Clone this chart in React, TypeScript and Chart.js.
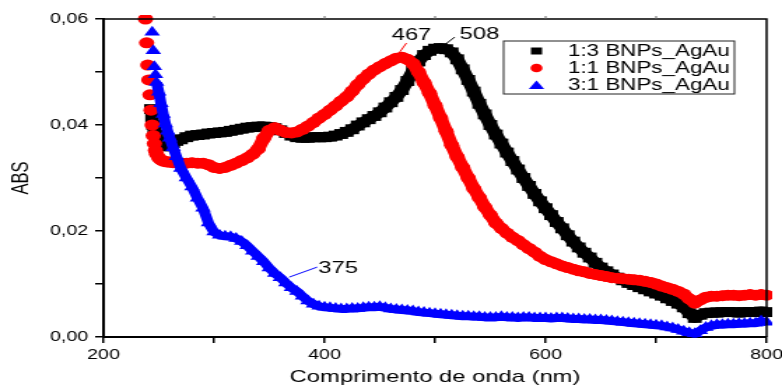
import React, { useEffect, useRef } from "react";
import { Chart, registerables } from "chart.js";

Chart.register(...registerables);

const wavelengths = [
  238, 239, 240, 241, 242, 243, 244, 245, 246, 247,
  248, 250, 252, 254, 256, 258, 260, 263, 266, 270,
  275, 280, 285, 290, 295, 300, 305, 310, 315, 320,
  325, 330, 335, 340, 345, 350, 355, 360, 365, 370,
  375, 380, 385, 390, 395, 400, 405, 410, 415, 420,
  425, 430, 435, 440, 445, 450, 455, 460, 465, 470,
  475, 480, 485, 490, 495, 500, 505, 510, 515, 520,
  525, 530, 535, 540, 545, 550, 555, 560, 565, 570,
  575, 580, 585, 590, 595, 600, 605, 610, 615, 620,
  625, 630, 635, 640, 645, 650, 655, 660, 665, 670,
  675, 680, 685, 690, 695, 700, 705, 710, 715, 720,
  725, 730, 735, 740, 745, 750, 755, 760, 765, 770,
  775, 780, 785, 790, 795, 800,
];

// 1:3 BNPs_AgAu (black squares)
const abs13 = [
  null, null, null, null, null, 0.0430, 0.0415, 0.0400, 0.0390, 0.0382,
  0.0375, 0.0368, 0.0364, 0.0362, 0.0360, 0.0360, 0.0362, 0.0366, 0.0370, 0.0373,
  0.0377, 0.0380, 0.0381, 0.0382, 0.0384, 0.0385, 0.0386, 0.0387, 0.0389, 0.0391,
  0.0393, 0.0395, 0.0396, 0.0397, 0.0397, 0.0396, 0.0394, 0.0390, 0.0385, 0.0380,
  0.0377, 0.0376, 0.0376, 0.0377, 0.0377, 0.0377, 0.0378, 0.0380, 0.0383, 0.0387,
  0.0392, 0.0399, 0.0405, 0.0411, 0.0417, 0.0424, 0.0433, 0.0443, 0.0453, 0.0466,
  0.0483, 0.0502, 0.0520, 0.0532, 0.0540, 0.0544, 0.0545, 0.0543, 0.0537, 0.0524,
  0.0505, 0.0485, 0.0463, 0.0440, 0.0420, 0.0400, 0.0382, 0.0365, 0.0348, 0.0332,
  0.0316, 0.0300, 0.0285, 0.0270, 0.0256, 0.0243, 0.0230, 0.0217, 0.0205, 0.0192,
  0.0180, 0.0169, 0.0159, 0.0150, 0.0140, 0.0131, 0.0124, 0.0118, 0.0112, 0.0107,
  0.0102, 0.0098, 0.0094, 0.0090, 0.0086, 0.0082, 0.0078, 0.0073, 0.0068, 0.0063,
  0.0056, 0.0045, 0.0036, 0.0042, 0.0045, 0.0046, 0.0046, 0.0047, 0.0047, 0.0047,
  0.0046, 0.0047, 0.0047, 0.0047, 0.0048, 0.0047,
];

// 1:1 BNPs_AgAu (red circles)
const abs11 = [
  0.0600, 0.0555, 0.0513, 0.0485, 0.0457, 0.0428, 0.0400, 0.0380, 0.0365, 0.0352,
  0.0345, 0.0338, 0.0334, 0.0332, 0.0331, 0.0330, 0.0330, 0.0329, 0.0329, 0.0328,
  0.0328, 0.0329, 0.0328, 0.0328, 0.0325, 0.0320, 0.0318, 0.0320, 0.0324, 0.0328,
  0.0333, 0.0338, 0.0345, 0.0355, 0.0375, 0.0390, 0.0395, 0.0390, 0.0386, 0.0385,
  0.0387, 0.0392, 0.0398, 0.0405, 0.0413, 0.0420, 0.0428, 0.0436, 0.0445, 0.0453,
  0.0464, 0.0476, 0.0487, 0.0496, 0.0504, 0.0510, 0.0516, 0.0521, 0.0526, 0.0528,
  0.0524, 0.0516, 0.0500, 0.0480, 0.0460, 0.0437, 0.0413, 0.0388, 0.0362, 0.0340,
  0.0320, 0.0300, 0.0280, 0.0263, 0.0245, 0.0230, 0.0215, 0.0205, 0.0196, 0.0188,
  0.0182, 0.0174, 0.0167, 0.0160, 0.0152, 0.0146, 0.0142, 0.0138, 0.0134, 0.0131,
  0.0128, 0.0125, 0.0123, 0.0120, 0.0118, 0.0116, 0.0114, 0.0112, 0.0111, 0.0110,
  0.0109, 0.0108, 0.0107, 0.0105, 0.0103, 0.0100, 0.0096, 0.0093, 0.0090, 0.0086,
  0.0081, 0.0072, 0.0064, 0.0070, 0.0075, 0.0077, 0.0077, 0.0078, 0.0079, 0.0079,
  0.0078, 0.0079, 0.0080, 0.0079, 0.0080, 0.0079,
];

// 3:1 BNPs_AgAu (blue triangles)
const abs31 = [
  null, null, null, null, null, null, 0.0575, 0.0540, 0.0510, 0.0495,
  0.0480, 0.0462, 0.0440, 0.0420, 0.0402, 0.0388, 0.0375, 0.0357, 0.0340, 0.0318,
  0.0300, 0.0283, 0.0262, 0.0243, 0.0215, 0.0198, 0.0192, 0.0190, 0.0189, 0.0186,
  0.0180, 0.0172, 0.0162, 0.0152, 0.0142, 0.0130, 0.0120, 0.0112, 0.0102, 0.0093,
  0.0086, 0.0077, 0.0068, 0.0062, 0.0058, 0.0056, 0.0055, 0.0054, 0.0053, 0.0053,
  0.0054, 0.0054, 0.0055, 0.0056, 0.0056, 0.0057, 0.0055, 0.0053, 0.0052, 0.0051,
  0.0050, 0.0049, 0.0047, 0.0046, 0.0045, 0.0044, 0.0043, 0.0042, 0.0041, 0.0040,
  0.0039, 0.0039, 0.0038, 0.0038, 0.0037, 0.0037, 0.0037, 0.0038, 0.0037, 0.0037,
  0.0036, 0.0037, 0.0037, 0.0036, 0.0036, 0.0036, 0.0035, 0.0036, 0.0036, 0.0035,
  0.0034, 0.0034, 0.0033, 0.0033, 0.0032, 0.0032, 0.0031, 0.0030, 0.0029, 0.0028,
  0.0027, 0.0026, 0.0025, 0.0024, 0.0023, 0.0022, 0.0021, 0.0019, 0.0017, 0.0014,
  0.0011, 0.0008, 0.0006, 0.0012, 0.0018, 0.0021, 0.0023, 0.0023, 0.0024, 0.0024,
  0.0025, 0.0025, 0.0026, 0.0026, 0.0030, 0.0028,
];

const seriesLabels = ["1:3 BNPs_AgAu", "1:1 BNPs_AgAu", "3:1 BNPs_AgAu"];

// peak annotations: label, wavelength and absorbance where the pointer touches the curve
const peakLabels = ["467", "508", "375"];
const peakX = [466, 506, 368];
const peakY = [0.0532, 0.0547, 0.0113];

const xTitle = "Comprimento de onda (nm)";
const yTitle = "ABS";

const FONT = "'Liberation Sans', Arial, sans-serif";
const COLORS = ["#000000", "#ff0000", "#0000ff"];

function toPoints(vals: (number | null)[]) {
  const pts: { x: number; y: number }[] = [];
  wavelengths.forEach((x, i) => {
    const v = vals[i];
    if (v !== null && v !== undefined) pts.push({ x, y: v });
  });
  return pts;
}

const overlayPlugin = {
  id: "overlay",
  afterDatasetsDraw(chart: any) {
    const { ctx, chartArea: a, scales } = chart;
    const xs = scales.x;
    const ys = scales.y;
    ctx.save();
    // top and right frame
    ctx.strokeStyle = "#000";
    ctx.lineWidth = 1.5;
    ctx.beginPath();
    ctx.moveTo(a.left, a.top);
    ctx.lineTo(a.right, a.top);
    ctx.lineTo(a.right, a.bottom);
    ctx.stroke();
    // small top ticks
    ctx.lineWidth = 1;
    ctx.strokeStyle = "#666";
    for (let v = 300; v <= 700; v += 100) {
      const px = xs.getPixelForValue(v);
      ctx.beginPath();
      ctx.moveTo(px, a.top);
      ctx.lineTo(px, a.top - 3);
      ctx.stroke();
    }

    // annotations
    const lineOff = [
      [6.4, -12],
      [9.3, -10],
      [20, -10],
    ];
    const textOff = [
      [10, -20],
      [27, -13],
      [35, -9],
    ];
    const lineColors = ["#ff0000", "#000000", "#0000ff"];
    ctx.font = `17px ${FONT}`;
    ctx.textAlign = "center";
    ctx.textBaseline = "middle";
    peakLabels.forEach((lab, i) => {
      const px = xs.getPixelForValue(peakX[i]);
      const py = ys.getPixelForValue(peakY[i]);
      ctx.strokeStyle = lineColors[i];
      ctx.lineWidth = 1;
      ctx.beginPath();
      ctx.moveTo(px, py);
      ctx.lineTo(px + lineOff[i][0], py + lineOff[i][1]);
      ctx.stroke();
      ctx.fillStyle = "#000";
      ctx.fillText(lab, px + textOff[i][0], py + textOff[i][1]);
    });

    // legend
    const bw = 165;
    const bh = 53;
    const bx = a.right - 23 - bw;
    const by = a.top + 22;
    ctx.fillStyle = "#fff";
    ctx.fillRect(bx, by, bw, bh);
    ctx.strokeStyle = "#222";
    ctx.lineWidth = 1;
    ctx.strokeRect(bx, by, bw, bh);
    ctx.font = `16px ${FONT}`;
    ctx.textAlign = "left";
    ctx.textBaseline = "middle";
    seriesLabels.forEach((lab, i) => {
      const cy = by + 10 + i * 17;
      const mx = bx + 23.5;
      ctx.fillStyle = COLORS[i];
      ctx.beginPath();
      if (i === 0) {
        ctx.rect(mx - 4, cy - 3.5, 8, 7);
      } else if (i === 1) {
        ctx.arc(mx, cy, 4.3, 0, Math.PI * 2);
      } else {
        ctx.moveTo(mx, cy - 4.5);
        ctx.lineTo(mx + 5.5, cy + 4);
        ctx.lineTo(mx - 5.5, cy + 4);
        ctx.closePath();
      }
      ctx.fill();
      ctx.fillStyle = "#000";
      ctx.fillText(lab, bx + 46, cy + 0.5);
    });
    ctx.restore();
  },
};

export default function App() {
  const ref = useRef<HTMLCanvasElement>(null);
  useEffect(() => {
    document.body.style.margin = "0";
    const canvas = ref.current!;
    const styles = ["rect", "circle", "triangle"];
    const radii = [7, 5.5, 6.5];
    const widths = [10, 10, 8];
    const orders = [2, 1, 0];
    const series = [abs13, abs11, abs31];
    const chart = new Chart(canvas, {
      type: "scatter",
      data: {
        datasets: series.map((vals, i) => ({
          label: seriesLabels[i],
          data: toPoints(vals),
          showLine: true,
          borderColor: COLORS[i],
          backgroundColor: COLORS[i],
          borderWidth: widths[i],
          borderJoinStyle: "round",
          pointStyle: styles[i] as any,
          pointRadius: radii[i],
          pointBorderWidth: 0,
          order: orders[i],
          clip: 4,
          segment: {
            borderColor: (c: any) => (c.p0.parsed.x < 248 ? "rgba(0,0,0,0)" : COLORS[i]),
          },
        })),
      },
      options: {
        animation: false,
        responsive: false,
        devicePixelRatio: 1,
        layout: { padding: { left: 0, right: 11, top: 19, bottom: 0 } },
        plugins: { legend: { display: false }, tooltip: { enabled: false } },
        scales: {
          x: {
            type: "linear",
            min: 200,
            max: 800,
            afterFit: (s: any) => {
              s.height = 50;
              s.paddingLeft = 0;
              s.paddingRight = 0;
            },
            ticks: {
              stepSize: 100,
              autoSkip: false,
              maxRotation: 0,
              padding: 4,
              color: "#000",
              font: { family: FONT, size: 14 },
              callback: (v: any) => (Number(v) % 200 === 0 ? String(v) : ""),
            },
            grid: { drawOnChartArea: false, drawTicks: true, tickLength: 6, color: "#000", lineWidth: 1.5 },
            border: { display: true, color: "#000", width: 2 },
            title: {
              display: true,
              text: xTitle,
              color: "#000",
              font: { family: FONT, size: 17, lineHeight: 1 },
              padding: { top: 0, bottom: 1 },
            },
          },
          y: {
            type: "linear",
            min: 0,
            max: 0.06,
            afterFit: (s: any) => {
              s.width = 74;
              s.paddingTop = 0;
              s.paddingBottom = 0;
            },
            ticks: {
              stepSize: 0.01,
              padding: 5,
              color: "#000",
              font: { family: FONT, size: 14 },
              callback: (v: any) =>
                Math.round(Number(v) * 100) % 2 === 0 ? Number(v).toFixed(2).replace(".", ",") : "",
            },
            grid: { drawOnChartArea: false, drawTicks: true, tickLength: 6, color: "#000", lineWidth: 1.5 },
            border: { display: true, color: "#000", width: 2 },
            title: {
              display: true,
              text: yTitle,
              color: "#000",
              font: { family: FONT, size: 16.5 },
              padding: { top: 6, bottom: 0 },
            },
          },
        },
      },
      plugins: [overlayPlugin],
    } as any);
    return () => chart.destroy();
  }, []);
  return (
    <canvas
      ref={ref}
      width={559}
      height={387}
      style={{ display: "block", width: "782px", height: "387px" }}
    />
  );
}
